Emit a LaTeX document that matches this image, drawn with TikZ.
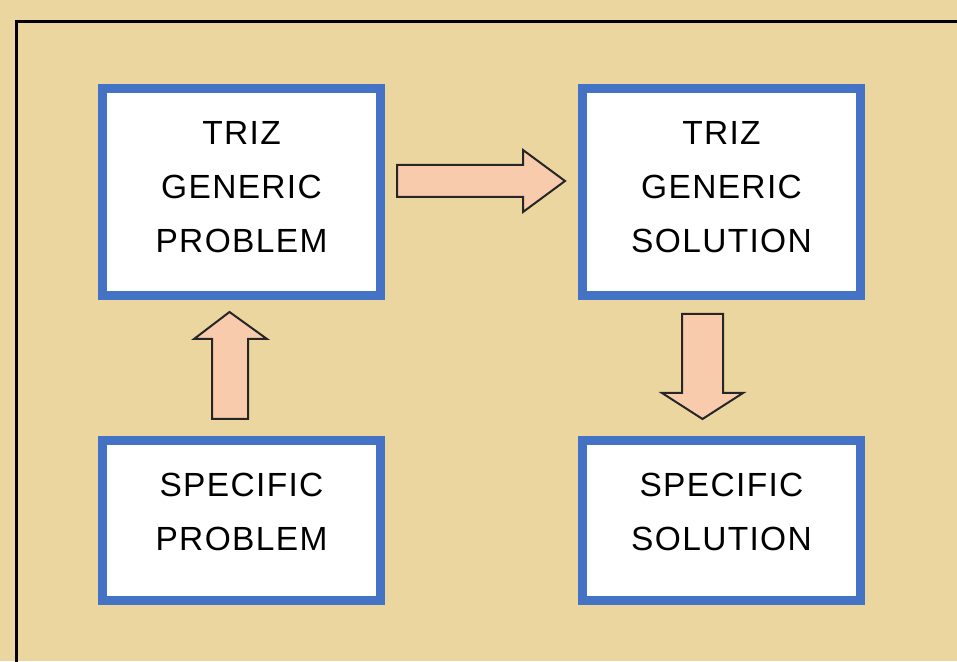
\documentclass[tikz,border=0pt]{standalone}
\usepackage{fontspec}
\setmainfont{Liberation Sans}[LetterSpace=4]
\definecolor{parch}{RGB}{236,214,160}
\definecolor{boxblue}{RGB}{68,114,196}
\definecolor{peach}{RGB}{248,203,173}
\begin{document}
\begin{tikzpicture}[x=1pt,y=1pt,
  conceptbox/.style={draw=boxblue,line width=9pt,fill=white,inner sep=0pt},
  boxtext/.style={align=center,inner sep=0pt,font=\fontsize{33.5}{54}\selectfont},
  blockarrow/.style={fill=peach,draw=black!85,line width=2pt,line join=miter}]
\fill[parch] (0,0) rectangle (957,661);
\useasboundingbox (0,0) rectangle (957,661);
\draw[line width=3pt,black] (16.5,-10) |- (970,639.5);
% boxes
\node[conceptbox,minimum width=278pt,minimum height=206.5pt] (gp) at (241.5,468.75) {};
\node[conceptbox,minimum width=278pt,minimum height=206.5pt] (gs) at (721.5,468.75) {};
\node[conceptbox,minimum width=278pt,minimum height=159.5pt] (sp) at (241.5,140.25) {};
\node[conceptbox,minimum width=278pt,minimum height=159.5pt] (ss) at (721.5,140.25) {};
% texts
\node[boxtext] (gpt) at ([yshift=4.75pt]gp.center) {TRIZ\\GENERIC\\PROBLEM};
\node[boxtext] (gst) at ([yshift=4.75pt]gs.center) {TRIZ\\GENERIC\\SOLUTION};
\node[boxtext] (spt) at ([yshift=8.75pt]sp.center) {SPECIFIC\\PROBLEM};
\node[boxtext] (sst) at ([yshift=8.75pt]ss.center) {SPECIFIC\\SOLUTION};
% block arrows
\draw[blockarrow] (397,496) -- (523,496) -- (523,511) -- (565,480) -- (523,449) -- (523,464) -- (397,464) -- cycle;
\draw[blockarrow] (212,242) -- (212,322) -- (194,322) -- (229.5,349) -- (267,322) -- (248,322) -- (248,242) -- cycle;
\draw[blockarrow] (682,347) -- (723,347) -- (723,268) -- (743,268) -- (702.5,242) -- (662,268) -- (682,268) -- cycle;
\end{tikzpicture}
\end{document}
